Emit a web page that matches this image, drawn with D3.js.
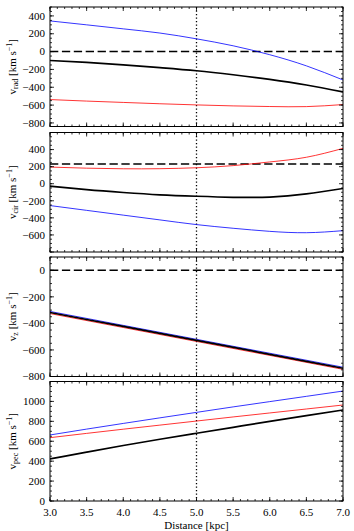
<!DOCTYPE html>
<html>
<head>
<meta charset="utf-8">
<script src="https://cdn.jsdelivr.net/npm/d3@7"></script>
<style>
	body { margin: 0; background: #fff; }
	svg { display: block; }
	text { font-family: "Liberation Serif", "DejaVu Serif", serif; fill: #000; }
</style>
</head>
<body>
<svg id="chart" width="354" height="531"></svg>
<script>
'use strict';

// distance grid (kpc)
var distance = [3.0, 3.5, 4.0, 4.5, 5.0, 5.5, 6.0, 6.5, 7.0];

// v_rad
var vradBlack = [-100, -122, -148, -180, -215, -260, -312, -375, -453];
var vradRed = [-538, -555, -570, -585, -598, -609, -616, -617, -594];
var vradBlue = [344, 300, 255, 208, 143, 65, -35, -160, -318];

// v_cir
var vcirBlack = [-29, -70, -103, -130, -147, -159, -156, -120, -56];
var vcirRed = [195, 182, 175, 176, 187, 212, 255, 310, 414];
var vcirBlue = [-256, -312, -368, -424, -479, -522, -558, -574, -550];

// v_z (three almost identical straight lines)
var vzDist = [3.0, 4.0, 5.0, 6.0, 7.0];
var vzBlack = [-318, -423, -528, -633, -738];
var vzRed = [-326, -431, -536, -641, -746];
var vzBlue = [-310, -415, -520, -625, -730];

// v_pec
var vpecBlack = [422, 490, 557, 620, 680, 740, 800, 858, 914];
var vpecRed = [636, 679, 721, 762, 803, 844, 884, 924, 964];
var vpecBlue = [663, 722, 779, 835, 890, 945, 998, 1051, 1104];

// reference levels (dashed) and marker distance (dotted)
var refLevel = [0, 230, 0, null];
var markDistance = 5.0;

// axis setup
var yDomains = [[-840, 500], [-800, 600], [-800, 100], [0, 1200]];
var yTickLabels = [
	[-800, -600, -400, -200, 0, 200, 400],
	[-600, -400, -200, 0, 200, 400],
	[-800, -600, -400, -200, 0],
	[0, 200, 400, 600, 800, 1000]
];
var ySubs = ["rad", "cir", "z", "pec"];
var xTickLabels = [3.0, 3.5, 4.0, 4.5, 5.0, 5.5, 6.0, 6.5, 7.0];

var panels = [
	{ x: distance, series: [vradBlack, vradRed, vradBlue] },
	{ x: distance, series: [vcirBlack, vcirRed, vcirBlue] },
	{ x: vzDist, series: [vzBlack, vzRed, vzBlue] },
	{ x: distance, series: [vpecBlack, vpecRed, vpecBlue] }
];
var seriesColor = ["#000000", "#ff0000", "#0000ff"];
var seriesWidth = [1.7, 0.8, 0.8];

var LEFT = 50, RIGHT = 343;
var TOPS = [7, 132.5, 257, 381.5];
var PANEL_H = 119.5;

var svg = d3.select("#chart");

var x = d3.scaleLinear().domain([3, 7]).range([LEFT, RIGHT]);

var fmtMinus = function (v) { return (v < 0 ? "\u2212" : "") + Math.abs(v); };

panels.forEach(function (p, i) {
	var top = TOPS[i], bottom = top + PANEL_H;
	var y = d3.scaleLinear().domain(yDomains[i]).range([bottom, top]);
	var g = svg.append("g");

	g.append("clipPath").attr("id", "clip" + i)
		.append("rect")
		.attr("x", LEFT).attr("y", top)
		.attr("width", RIGHT - LEFT).attr("height", PANEL_H);

	var plot = g.append("g").attr("clip-path", "url(#clip" + i + ")");

	if (refLevel[i] !== null) {
		plot.append("line")
			.attr("x1", LEFT).attr("x2", RIGHT)
			.attr("y1", y(refLevel[i])).attr("y2", y(refLevel[i]))
			.attr("stroke", "#000").attr("stroke-width", 1.5)
			.attr("stroke-dasharray", "8.3,3.6");
	}

	plot.append("line")
		.attr("x1", x(markDistance)).attr("x2", x(markDistance))
		.attr("y1", top).attr("y2", bottom)
		.attr("stroke", "#000").attr("stroke-width", 1.3)
		.attr("stroke-dasharray", "1.3,2.2");

	var line = d3.line()
		.x(function (d, k) { return x(p.x[k]); })
		.y(function (d) { return y(d); })
		.curve(d3.curveNatural);

	// draw thin coloured lines first, black on top
	[2, 1, 0].forEach(function (s) {
		plot.append("path")
			.attr("d", line(p.series[s]))
			.attr("fill", "none")
			.attr("stroke", seriesColor[s])
			.attr("stroke-width", seriesWidth[s]);
	});

	// ticks on all four sides, pointing inwards
	var yMajor = d3.range(Math.ceil(yDomains[i][0] / 200) * 200, yDomains[i][1] + 1, 200);
	var yMinor = d3.range(Math.ceil(yDomains[i][0] / 50) * 50, yDomains[i][1] + 1, 50);
	var xMajor = d3.range(3, 7.001, 0.5);
	var xMinor = d3.range(3, 7.001, 0.1);

	var ticks = g.append("g").attr("stroke", "#000").attr("stroke-width", 0.8);

	function yTick(v, len) {
		ticks.append("line").attr("x1", LEFT).attr("x2", LEFT + len)
			.attr("y1", y(v)).attr("y2", y(v));
		ticks.append("line").attr("x1", RIGHT).attr("x2", RIGHT - len)
			.attr("y1", y(v)).attr("y2", y(v));
	}
	function xTick(v, len) {
		ticks.append("line").attr("x1", x(v)).attr("x2", x(v))
			.attr("y1", top).attr("y2", top + len);
		ticks.append("line").attr("x1", x(v)).attr("x2", x(v))
			.attr("y1", bottom).attr("y2", bottom - len);
	}
	yMinor.forEach(function (v) { yTick(v, 2); });
	yMajor.forEach(function (v) { yTick(v, 4); });
	xMinor.forEach(function (v) { xTick(v, 2); });
	xMajor.forEach(function (v) { xTick(v, 4); });

	g.append("rect")
		.attr("x", LEFT).attr("y", top)
		.attr("width", RIGHT - LEFT).attr("height", PANEL_H)
		.attr("fill", "none").attr("stroke", "#000").attr("stroke-width", 1);

	g.selectAll(".ylab")
		.data(yTickLabels[i])
		.enter().append("text")
		.attr("x", LEFT - 5)
		.attr("y", function (d) { return y(d); })
		.attr("dy", "0.34em")
		.attr("text-anchor", "end")
		.attr("font-size", 11)
		.text(fmtMinus);

	var title = g.append("text")
		.attr("transform", "translate(15.5," + (top + PANEL_H / 2) + ") rotate(-90)")
		.attr("text-anchor", "middle")
		.attr("font-size", 11);
	title.append("tspan").text("v");
	title.append("tspan").attr("font-size", 8).attr("dy", 2.5).text(ySubs[i]);
	title.append("tspan").attr("dy", -2.5).text(" [km s");
	title.append("tspan").attr("font-size", 8).attr("dy", -4).text("\u22121");
	title.append("tspan").attr("dy", 4).text("]");

	if (i === panels.length - 1) {
		g.selectAll(".xlab")
			.data(xTickLabels)
			.enter().append("text")
			.attr("x", function (d) { return x(d); })
			.attr("y", bottom + 15)
			.attr("text-anchor", "middle")
			.attr("font-size", 11)
			.text(function (d) { return d.toFixed(1); });

		g.append("text")
			.attr("x", (LEFT + RIGHT) / 2)
			.attr("y", bottom + 28)
			.attr("text-anchor", "middle")
			.attr("font-size", 11)
			.text("Distance [kpc]");
	}
});
</script>
</body>
</html>
